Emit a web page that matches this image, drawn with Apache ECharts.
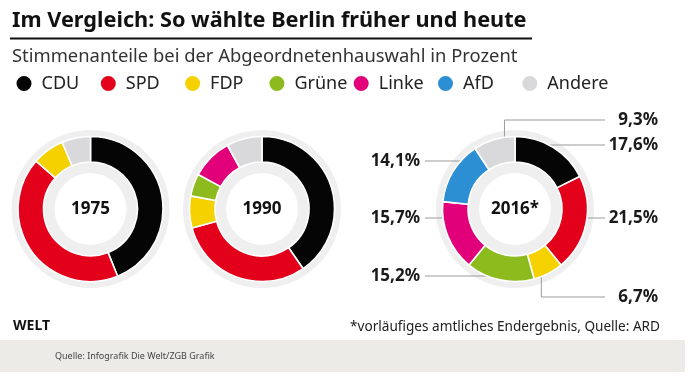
<!DOCTYPE html>
<html>
<head>
<meta charset="utf-8">
<script src="https://cdn.jsdelivr.net/npm/echarts@6/dist/echarts.min.js"></script>
<style>
  html, body { margin: 0; padding: 0; background: #fff; }
  #chart { width: 690px; height: 376px; }
</style>
</head>
<body>
<div id="chart"></div>
<script>
// ---- data ----
const parties = ['CDU', 'SPD', 'FDP', 'Grüne', 'Linke', 'AfD', 'Andere'];
const years = ['1975', '1990', '2016*'];
const values1975 = [43.9, 42.6, 7.1, null, null, null, 6.4];
const values1990 = [40.4, 30.4, 7.1, 5.0, 9.2, null, 7.9];
const values2016 = [17.6, 21.5, 6.7, 15.2, 15.7, 14.1, 9.3];

// ---- style / layout ----
const partyColors = ['#050505', '#e2001a', '#f6d100', '#8dbb1e', '#e2007a', '#2d8fd3', '#d9d9db'];
const FONT = '"Noto Sans", sans-serif';
const centersX = [90.5, 262, 515];
const centerY = 209;
const R_OUT = 72.5, R_IN = 47;
const LEGEND_LEFT = 9.5, LEGEND_PITCH = 84.3;
// placement of the 2016 annotations (layout, not data): side (+1 right, -1 left) and height
const labelPlace2016 = {
  'CDU': [1, 145], 'SPD': [1, 218], 'FDP': [1, 297], 'Grüne': [-1, 276],
  'Linke': [-1, 218], 'AfD': [-1, 161], 'Andere': [1, 120]
};

const allValues = [values1975, values1990, values2016];

function buildData(vals) {
  const out = [];
  vals.forEach(function (v, i) {
    if (v != null) out.push({ name: parties[i], value: v, itemStyle: { color: partyColors[i] } });
  });
  return out;
}
function fmt(v) { return v.toFixed(1).replace('.', ',') + '%'; }

const series = [];
allValues.forEach(function (vals, k) {
  const cx = centersX[k];
  // background ring
  series.push({
    type: 'pie', silent: true, z: 1,
    center: [cx, centerY], radius: [36, 79],
    startAngle: 90, clockwise: true,
    label: { show: true, position: 'center', formatter: years[k],
      fontFamily: FONT, fontWeight: 'bold', fontSize: 17, color: '#111' },
    labelLine: { show: false },
    emphasis: { disabled: true },
    itemStyle: { color: '#efefef' },
    data: [{ name: 'bg' + k, value: 1 }]
  });
  const data = buildData(vals);
  const total = data.reduce(function (a, d) { return a + d.value; }, 0);
  const s = {
    type: 'pie', z: 2,
    center: [cx, centerY], radius: [R_IN, R_OUT],
    startAngle: 90, clockwise: true,
    avoidLabelOverlap: false,
    itemStyle: { borderColor: '#ffffff', borderWidth: 1.6 },
    emphasis: { scale: false },
    label: { show: false },
    labelLine: { show: false },
    data: data
  };
  if (k === 2) {
    s.label = {
      show: true, position: 'outside',
      formatter: function (p) { return fmt(p.value); },
      fontFamily: FONT, fontWeight: 'bold', fontSize: 17, color: '#1a1a1a'
    };
    s.labelLine = { show: true, length: 10, length2: 10, smooth: false,
      lineStyle: { color: '#9b9b9b', width: 1 } };
    s.labelLayout = function (p) {
      const name = data[p.dataIndex].name;
      const side = labelPlace2016[name][0];
      const ly = labelPlace2016[name][1];
      const lineEnd = cx + side * 90;
      let pts;
      const dy = ly - centerY;
      if (Math.abs(dy) >= R_OUT) {
        // elbow line leaving the slice three quarters along its arc
        let before = 0;
        for (let j = 0; j < p.dataIndex; j++) before += data[j].value;
        const frac = (before + 0.75 * data[p.dataIndex].value) / total;
        const ang = frac * 2 * Math.PI;
        const sx = cx + R_OUT * Math.sin(ang), sy = centerY - R_OUT * Math.cos(ang);
        pts = [[sx, sy], [sx, ly], [lineEnd, ly]];
      } else {
        const ix = cx + side * Math.sqrt(R_OUT * R_OUT - dy * dy);
        pts = [[ix, ly], [lineEnd, ly]];
      }
      return {
        x: side > 0 ? cx + 143 : cx - 95,
        y: ly,
        align: 'right',
        verticalAlign: 'middle',
        labelLinePoints: pts
      };
    };
  }
  series.push(s);
});

// one legend component per party so the items sit on an even pitch
const legends = parties.map(function (p, i) {
  return {
    data: [p],
    left: LEGEND_LEFT + i * LEGEND_PITCH, top: 69,
    icon: 'circle',
    itemWidth: 25, itemHeight: 17,
    selectedMode: false,
    textStyle: { fontFamily: FONT, fontSize: 18, color: '#222' }
  };
});

const chart = echarts.init(document.getElementById('chart'));
chart.setOption({
  animation: false,
  backgroundColor: '#ffffff',
  legend: legends,
  graphic: [
    { type: 'text', x: 12, y: 20.5, style: { text: 'Im Vergleich: So wählte Berlin früher und heute',
        font: 'bold 21.7px ' + FONT, fill: '#111', verticalAlign: 'middle' } },
    { type: 'line', shape: { x1: 10, y1: 38.5, x2: 532, y2: 38.5 }, style: { stroke: '#111', lineWidth: 2 } },
    { type: 'text', x: 12, y: 57, style: { text: 'Stimmenanteile bei der Abgeordnetenhauswahl in Prozent',
        font: '18.4px ' + FONT, fill: '#333', verticalAlign: 'middle' } },
    { type: 'text', x: 13, y: 326, style: { text: 'WELT', font: 'bold 14px ' + FONT, fill: '#111', verticalAlign: 'middle' } },
    { type: 'text', x: 660, y: 327, style: { text: '*vorläufiges amtliches Endergebnis, Quelle: ARD',
        font: '13.6px ' + FONT, fill: '#222', align: 'right', verticalAlign: 'middle' } },
    { type: 'rect', shape: { x: 0, y: 340, width: 685, height: 32 }, style: { fill: '#ecebe8' }, z: -1 },
    { type: 'text', x: 55, y: 356.5, style: { text: 'Quelle: Infografik Die Welt/ZGB Grafik',
        font: '9px ' + FONT, fill: '#444', verticalAlign: 'middle' } }
  ],
  series: series
});
</script>
</body>
</html>
